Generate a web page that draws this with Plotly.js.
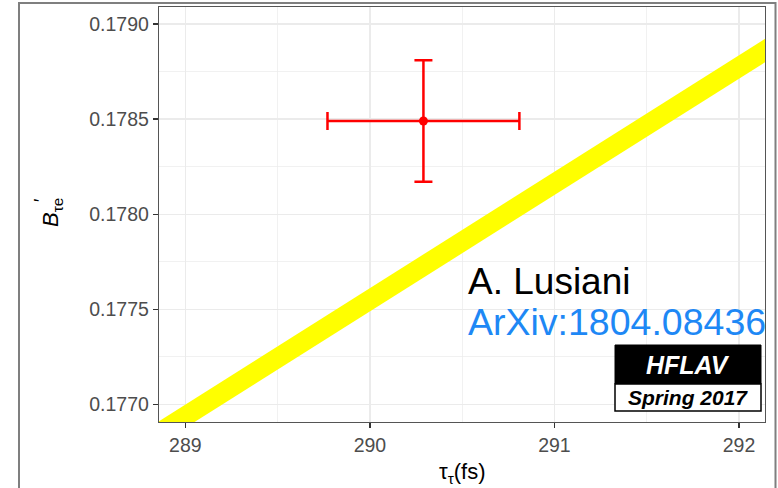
<!DOCTYPE html>
<html>
<head>
<meta charset="utf-8">
<script src="https://cdn.plot.ly/plotly-3.0.1.min.js"></script>
<style>
  html, body { margin: 0; padding: 0; background: #ffffff; }
  #chart { width: 778px; height: 488px; }
</style>
</head>
<body>
<div id="chart"></div>
<script>
// Measured tau lifetime and B'(tau -> e) with uncertainties
const tauMeas = [290.29];
const tauErr = [0.52];
const bteMeas = [0.17849];
const bteErr = [0.00032];

// Lepton-universality prediction band (lower / upper edges at the band ends)
const tauBand = [288.8, 292.2];
const bandLow = [0.176754, 0.178835];
const bandHigh = [0.176876, 0.178958];

// Axis ticks
const xTicks = [289, 290, 291, 292];
const yTicks = [0.1770, 0.1775, 0.1780, 0.1785, 0.1790];

// Panel geometry in pixels
const W = 778, Hh = 488;
const L = 159, R = 13, T = 7, B = 66;
const PW = W - L - R, PH = Hh - T - B;
const px = x => (x - L) / PW;
const py = y => (Hh - B - y) / PH;

const font = 'Liberation Sans, Arial, Helvetica, sans-serif';

const traces = [
  {
    x: tauBand, y: bandLow, type: 'scatter', mode: 'lines',
    line: { width: 0, color: '#ffff00' }, hoverinfo: 'skip', showlegend: false
  },
  {
    x: tauBand, y: bandHigh, type: 'scatter', mode: 'lines',
    fill: 'tonexty', fillcolor: '#ffff00',
    line: { width: 0, color: '#ffff00' }, hoverinfo: 'skip', showlegend: false
  },
  {
    x: tauMeas, y: bteMeas, type: 'scatter', mode: 'markers',
    marker: { color: '#ff0000', size: 9 },
    error_x: { type: 'data', array: tauErr, color: '#ff0000', thickness: 2.5, width: 9 },
    error_y: { type: 'data', array: bteErr, color: '#ff0000', thickness: 2.5, width: 9 },
    showlegend: false
  }
];

const layout = {
  width: W, height: Hh,
  margin: { l: L, r: R, t: T, b: B, pad: 0 },
  paper_bgcolor: '#ffffff', plot_bgcolor: '#ffffff',
  font: { family: font, color: '#4d4d4d', size: 19 },
  showlegend: false,
  xaxis: {
    range: [288.857, 292.141],
    tickvals: xTicks, ticktext: xTicks.map(String),
    ticks: 'outside', ticklen: 5, tickwidth: 1.2, tickcolor: '#333333',
    showgrid: true, gridcolor: '#ebebeb', gridwidth: 1.2,
    minor: { dtick: 0.5, tick0: 289, showgrid: true, gridcolor: '#ebebeb', gridwidth: 0.7, ticks: '' },
    zeroline: false,
    showline: true, mirror: true, linecolor: '#555555', linewidth: 1.2,
    tickfont: { family: font, size: 19.5, color: '#4d4d4d' }
  },
  yaxis: {
    range: [0.1769068, 0.1790895],
    tickvals: yTicks, ticktext: yTicks.map(v => v.toFixed(4)),
    ticks: 'outside', ticklen: 5, tickwidth: 1.2, tickcolor: '#333333',
    showgrid: true, gridcolor: '#ebebeb', gridwidth: 1.2,
    minor: { dtick: 0.00025, tick0: 0.1770, showgrid: true, gridcolor: '#ebebeb', gridwidth: 0.7, ticks: '' },
    zeroline: false,
    showline: true, mirror: true, linecolor: '#555555', linewidth: 1.2,
    tickfont: { family: font, size: 19.5, color: '#4d4d4d' }
  },
  shapes: [
    // outer frame
    { type: 'rect', xref: 'paper', yref: 'paper',
      x0: px(19), x1: px(775.5), y0: py(500), y1: py(3),
      line: { color: '#7f7f7f', width: 2 }, fillcolor: 'rgba(0,0,0,0)', layer: 'above' },
    // HFLAV badge
    { type: 'rect', xref: 'paper', yref: 'paper',
      x0: px(615), x1: px(761), y0: py(384), y1: py(345),
      line: { color: '#000000', width: 1 }, fillcolor: '#000000', layer: 'above' },
    { type: 'rect', xref: 'paper', yref: 'paper',
      x0: px(615), x1: px(761), y0: py(411), y1: py(384),
      line: { color: '#000000', width: 1.5 }, fillcolor: '#ffffff', layer: 'above' }
  ],
  annotations: [
    { text: 'A. Lusiani', xref: 'paper', yref: 'paper', x: px(466), y: py(281),
      xanchor: 'left', yanchor: 'middle', showarrow: false,
      font: { family: font, size: 37, color: '#000000' } },
    { text: 'ArXiv:1804.08436', xref: 'paper', yref: 'paper', x: px(466), y: py(322),
      xanchor: 'left', yanchor: 'middle', showarrow: false,
      font: { family: font, size: 37.5, color: '#1e88f5' } },
    { text: '<b><i>HFLAV</i></b>', xref: 'paper', yref: 'paper', x: px(688), y: py(364.5),
      xanchor: 'center', yanchor: 'middle', showarrow: false,
      font: { family: font, size: 25, color: '#ffffff' } },
    { text: '<b><i>Spring 2017</i></b>', xref: 'paper', yref: 'paper', x: px(688), y: py(397.5),
      xanchor: 'center', yanchor: 'middle', showarrow: false,
      font: { family: font, size: 21, color: '#000000' } },
    // axis titles
    { text: 'τ<sub>τ</sub>(fs)', xref: 'paper', yref: 'paper', x: px(462), y: py(473),
      xanchor: 'center', yanchor: 'middle', showarrow: false,
      font: { family: font, size: 22, color: '#000000' } },
    { text: '<i>B</i><sub>τe</sub>', xref: 'paper', yref: 'paper', x: px(52), y: py(213),
      xanchor: 'center', yanchor: 'middle', textangle: -90, showarrow: false,
      font: { family: font, size: 22, color: '#000000' } },
    { text: '′', xref: 'paper', yref: 'paper', x: px(41), y: py(200),
      xanchor: 'center', yanchor: 'middle', textangle: -90, showarrow: false,
      font: { family: font, size: 18, color: '#000000' } }
  ]
};

Plotly.newPlot('chart', traces, layout, { displayModeBar: false, staticPlot: true });
</script>
</body>
</html>
